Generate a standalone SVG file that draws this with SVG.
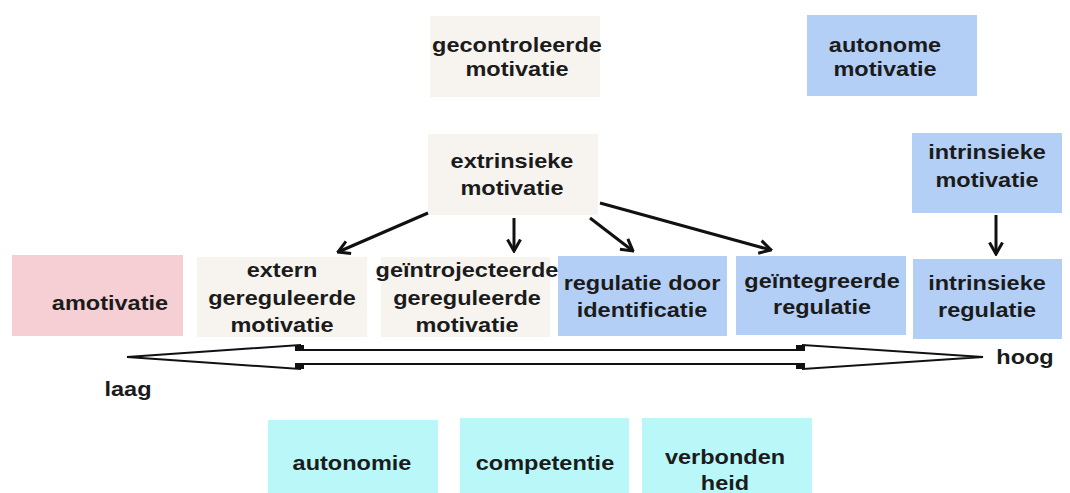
<svg xmlns="http://www.w3.org/2000/svg" width="1070" height="493" viewBox="0 0 1070 493">
<defs>
<style>
.b{fill:#f7f4ef}
.bl{fill:#b4cff5}
.pk{fill:#f6cfd4}
.cy{fill:#b9f7f8}
text{font-family:"Liberation Sans",Arial,sans-serif;font-weight:bold;font-size:21px;fill:#1b1b1b;text-anchor:middle}
.c{stroke:#111;stroke-width:3;fill:none}
.ba{stroke:#111;stroke-width:2;fill:#fff}
</style>
<marker id="ah" viewBox="0 0 14 16" refX="12.5" refY="8" markerWidth="14" markerHeight="16" markerUnits="userSpaceOnUse" orient="auto">
<path d="M1,1.5 L12.5,8 L1,14.5" fill="none" stroke="#111" stroke-width="3"/>
</marker>
</defs>
<rect width="1070" height="493" fill="#fff"/>
<g id="gecontroleerde"><rect class="b" x="430" y="16" width="170" height="81"/><text transform="matrix(1.12 0 0 1 517 0)" y="52">gecontroleerde</text><text transform="matrix(1.12 0 0 1 517 0)" y="76">motivatie</text></g>
<g id="autonome"><rect class="bl" x="807" y="15" width="170" height="81"/><text transform="matrix(1.12 0 0 1 885 0)" y="52">autonome</text><text transform="matrix(1.12 0 0 1 885 0)" y="76">motivatie</text></g>
<g id="extrinsieke"><rect class="b" x="428" y="134" width="170" height="81"/><text transform="matrix(1.12 0 0 1 512 0)" y="168">extrinsieke</text><text transform="matrix(1.12 0 0 1 512 0)" y="195">motivatie</text></g>
<g id="intrinsieke-motivatie"><rect class="bl" x="912" y="133" width="150" height="80"/><text transform="matrix(1.12 0 0 1 987 0)" y="159">intrinsieke</text><text transform="matrix(1.12 0 0 1 987 0)" y="187">motivatie</text></g>
<g id="amotivatie"><rect class="pk" x="12" y="255" width="171" height="81"/><text transform="matrix(1.12 0 0 1 110 0)" y="310">amotivatie</text></g>
<g id="extern"><rect class="b" x="197" y="257" width="170" height="80"/><text transform="matrix(1.12 0 0 1 282 0)" y="277">extern</text><text transform="matrix(1.12 0 0 1 282 0)" y="305">gereguleerde</text><text transform="matrix(1.12 0 0 1 282 0)" y="332">motivatie</text></g>
<g id="geintrojecteerde"><rect class="b" x="381" y="257" width="169" height="80"/><text transform="matrix(1.12 0 0 1 467 0)" y="277">geïntrojecteerde</text><text transform="matrix(1.12 0 0 1 467 0)" y="305">gereguleerde</text><text transform="matrix(1.12 0 0 1 467 0)" y="332">motivatie</text></g>
<g id="identificatie"><rect class="bl" x="558" y="256" width="169" height="80"/><text transform="matrix(1.12 0 0 1 642 0)" y="290">regulatie door</text><text transform="matrix(1.12 0 0 1 642 0)" y="317">identificatie</text></g>
<g id="geintegreerde"><rect class="bl" x="736" y="256" width="170" height="79"/><text transform="matrix(1.12 0 0 1 822 0)" y="288">geïntegreerde</text><text transform="matrix(1.12 0 0 1 822 0)" y="314">regulatie</text></g>
<g id="intrinsieke-regulatie"><rect class="bl" x="913" y="259" width="149" height="80"/><text transform="matrix(1.12 0 0 1 987 0)" y="290">intrinsieke</text><text transform="matrix(1.12 0 0 1 987 0)" y="317">regulatie</text></g>
<g id="autonomie"><rect class="cy" x="268" y="420" width="170" height="73"/><text transform="matrix(1.12 0 0 1 352 0)" y="470">autonomie</text></g>
<g id="competentie"><rect class="cy" x="460" y="418" width="169" height="75"/><text transform="matrix(1.12 0 0 1 545 0)" y="470">competentie</text></g>
<g id="verbondenheid"><rect class="cy" x="642" y="418" width="170" height="75"/><text transform="matrix(1.12 0 0 1 725 0)" y="464">verbonden</text><text transform="matrix(1.12 0 0 1 725 0)" y="490">heid</text></g>
<g id="connectors">
<line class="c" x1="428" y1="213" x2="338" y2="252" marker-end="url(#ah)"/>
<line class="c" x1="514" y1="218" x2="514" y2="251" marker-end="url(#ah)"/>
<line class="c" x1="590" y1="218" x2="633" y2="251" marker-end="url(#ah)"/>
<line class="c" x1="600" y1="203" x2="771" y2="250" marker-end="url(#ah)"/>
<line class="c" x1="996" y1="215" x2="996" y2="254" marker-end="url(#ah)"/>
<path class="ba" d="M127,357 L300,345 L300,350 L803,350 L803,345 L983,357 L803,369 L803,364 L300,364 L300,369 Z"/>
<rect x="295" y="345" width="9" height="6" fill="#111"/>
<rect x="295" y="363" width="9" height="6" fill="#111"/>
<rect x="796" y="345" width="9" height="6" fill="#111"/>
<rect x="796" y="363" width="9" height="6" fill="#111"/>
</g>
<text transform="matrix(1.12 0 0 1 1025 0)" y="364">hoog</text>
<text transform="matrix(1.12 0 0 1 128 0)" y="396">laag</text>
</svg>
